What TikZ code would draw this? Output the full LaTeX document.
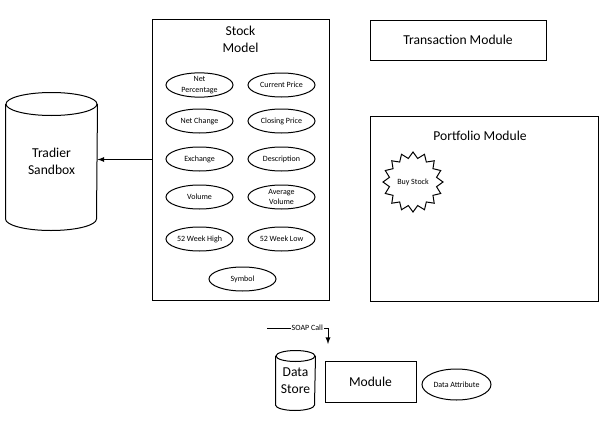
\documentclass[tikz,border=0pt]{standalone}
\usepackage{fontspec}
\setmainfont{Carlito}
\usetikzlibrary{positioning, shapes.geometric}

\begin{document}
\begin{tikzpicture}[x=0.75pt, y=-0.75pt, line width=0.75pt, >=latex,
    box/.style = {draw, rectangle, inner sep=0pt, font=\fontsize{10.2}{12.75}\selectfont},
    attr/.style = {draw, ellipse, minimum width=50.25pt, minimum height=18pt, inner sep=0pt, align=center, font=\fontsize{6}{8}\selectfont},
    store/.style = {rectangle, inner sep=0pt, align=center, font=\fontsize{10.2}{12.75}\selectfont},
    title/.style = {align=center, font=\fontsize{10.2}{12.75}\selectfont}]
    \useasboundingbox (0,0) rectangle (600,443);
    \node[box, minimum width=132.75pt, minimum height=210.75pt] (stock) at (240.5,159.5) {};
    \node[title] (stocktitle) at (240.5,39.5) {Stock\\Model};
    \node[attr] (netpct) at (199.5,85) {Net\\Percentage};
    \node[attr] (curprice) at (281.5,85) {Current Price};
    \node[attr] (netchg) at (199.5,121) {Net Change};
    \node[attr] (closeprice) at (281.5,121) {Closing Price};
    \node[attr] (exchange) at (199.5,159) {Exchange};
    \node[attr] (descr) at (281.5,159) {Description};
    \node[attr] (volume) at (199.5,197) {Volume};
    \node[attr] (avgvol) at (281.5,197) {Average\\Volume};
    \node[attr] (high) at (199.5,239) {52 Week High};
    \node[attr] (low) at (281.5,239) {52 Week Low};
    \node[attr] (symbol) at (242.5,279) {Symbol};
    \node[store, minimum width=68.25pt, minimum height=102.75pt] (tradier) at (51.5,161.5) {Tradier\\Sandbox};
    \node[box, minimum width=132pt, minimum height=30pt] (trans) at (458,40) {Transaction Module};
    \node[box, minimum width=171pt, minimum height=138.75pt] (portfolio) at (484,208.5) {};
    \node[title] (porttitle) at (480,136) {Portfolio Module};
    \node[draw, star, star points=16, star point ratio=1.25, minimum size=45pt, inner sep=0pt, font=\fontsize{6}{8}\selectfont] (buy) at (413,182) {Buy Stock};
    \node[store, minimum width=29.25pt, minimum height=44.25pt] (datastore) at (295.5,380.5) {Data\\Store};
    \node[box, minimum width=68.25pt, minimum height=30.75pt] (module) at (370.5,381.5) {Module};
    \node[attr, minimum width=51.75pt, minimum height=23.25pt] (dattr) at (456.5,384.5) {Data Attribute};
    % cylinder outlines
    \draw ([yshift=-8.625pt]tradier.north west) -- ([yshift=8.625pt]tradier.south west)
        arc[start angle=180, end angle=360, x radius=34.125pt, y radius=8.625pt]
        -- ([yshift=-8.625pt]tradier.north east);
    \draw ([yshift=-8.625pt]tradier.north) ellipse[x radius=34.125pt, y radius=8.625pt];
    \draw ([yshift=-4.125pt]datastore.north west) -- ([yshift=4.125pt]datastore.south west)
        arc[start angle=180, end angle=360, x radius=14.625pt, y radius=4.125pt]
        -- ([yshift=-4.125pt]datastore.north east);
    \draw ([yshift=-4.125pt]datastore.north) ellipse[x radius=14.625pt, y radius=4.125pt];
    \coordinate (soapstart) at (267,328);
    \coordinate (soapend) at (328,344);
    \draw[->] (stock.west) -- (stock.west -| tradier.east);
    \draw[->] (soapstart) -- (soapstart -| soapend) node[pos=0.66, fill=white, inner sep=0.5pt, font=\fontsize{6}{8}\selectfont] (soap) {SOAP Call} -- (soapend);
\end{tikzpicture}
\end{document}
